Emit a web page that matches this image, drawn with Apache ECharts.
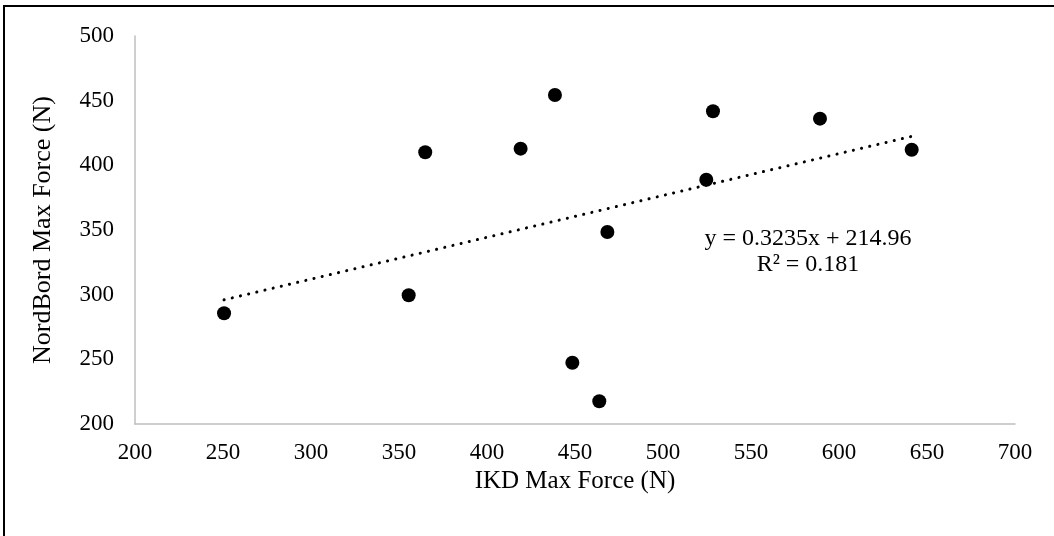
<!DOCTYPE html>
<html>
<head>
<meta charset="utf-8">
<script src="https://cdn.jsdelivr.net/npm/echarts@6/dist/echarts.min.js"></script>
<style>
html,body{margin:0;padding:0;background:#fff;}
#chart{width:1054px;height:536px;}
</style>
</head>
<body>
<div id="chart"></div>
<script>
const ikdMaxForce = [250.6, 355.5, 364.9, 419.1, 438.6, 448.5, 463.8, 468.4, 524.6, 528.4, 589.2, 641.3];
const nordbordMaxForce = [285.6, 299.5, 410.1, 412.9, 454.4, 247.4, 217.6, 348.5, 388.9, 441.8, 436.1, 412.1];
const trendSlope = 0.3235;
const trendIntercept = 214.96;
const equationText = 'y = 0.3235x + 214.96';
const r2Text = 'R² = 0.181';
const xTitle = 'IKD Max Force (N)';
const yTitle = 'NordBord Max Force (N)';

const points = ikdMaxForce.map((x, i) => [x, nordbordMaxForce[i]]);
const xMin = Math.min(...ikdMaxForce), xMax = Math.max(...ikdMaxForce);
const trend = [[xMin, trendSlope * xMin + trendIntercept], [xMax, trendSlope * xMax + trendIntercept]];

const font = '"Liberation Serif", "Times New Roman", serif';
const chart = echarts.init(document.getElementById('chart'), null, {renderer: 'canvas'});
chart.setOption({
  animation: false,
  backgroundColor: '#fff',
  textStyle: {fontFamily: font},
  grid: {left: 135, right: 39, top: 36, bottom: 112},
  xAxis: {
    type: 'value', min: 200, max: 700, interval: 50,
    name: xTitle, nameLocation: 'middle', nameGap: 37,
    nameTextStyle: {fontFamily: font, fontSize: 25, color: '#000'},
    axisLine: {show: true, lineStyle: {color: '#bfbfbf', width: 1.5}},
    axisTick: {show: false},
    splitLine: {show: false},
    axisLabel: {fontFamily: font, fontSize: 23, color: '#000', margin: 17}
  },
  yAxis: {
    type: 'value', min: 200, max: 500, interval: 50,
    name: yTitle, nameLocation: 'middle', nameGap: 79, nameRotate: 90,
    nameTextStyle: {fontFamily: font, fontSize: 26, color: '#000'},
    axisLine: {show: true, lineStyle: {color: '#bfbfbf', width: 1.5}},
    axisTick: {show: false},
    splitLine: {show: false},
    axisLabel: {fontFamily: font, fontSize: 23, color: '#000', margin: 21}
  },
  series: [
    {
      type: 'line', data: trend, symbol: 'none', silent: true,
      lineStyle: {color: '#000', width: 3, type: [0.1, 8.3], cap: 'round'}
    },
    {
      type: 'scatter', data: points, symbol: 'circle', symbolSize: 14,
      itemStyle: {color: '#000', opacity: 1}
    }
  ],
  graphic: [
    {type: 'rect', shape: {x: 4, y: 6, width: 1100, height: 600}, style: {fill: 'none', stroke: '#000', lineWidth: 2}, silent: true},
    {type: 'text', x: 808, y: 239, style: {text: equationText, font: '24px ' + font, fill: '#000', align: 'center', verticalAlign: 'middle'}},
    {type: 'text', x: 808, y: 265, style: {text: r2Text, font: '24px ' + font, fill: '#000', align: 'center', verticalAlign: 'middle'}}
  ]
});
</script>
</body>
</html>
